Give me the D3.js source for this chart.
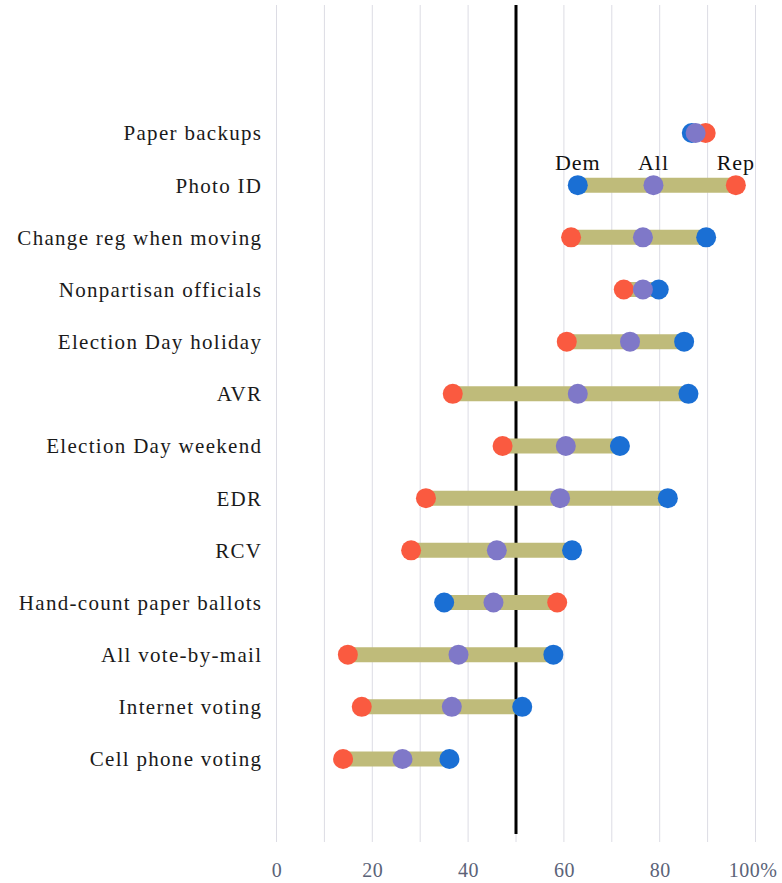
<!DOCTYPE html>
<html>
<head>
<meta charset="utf-8">
<script src="https://cdn.jsdelivr.net/npm/d3@7"></script>
<style>
  body { margin: 0; background: #fff; }
  svg { display: block; }
</style>
</head>
<body>
<script>
(function() {

  // data (percent support)
  let categories = ["Paper backups", "Photo ID", "Change reg when moving", "Nonpartisan officials",
    "Election Day holiday", "AVR", "Election Day weekend", "EDR", "RCV",
    "Hand-count paper ballots", "All vote-by-mail", "Internet voting", "Cell phone voting"];
  let demValues = [86.7, 62.9, 89.7, 79.8, 85.1, 86.0, 71.7, 81.7, 61.7, 35.0, 57.8, 51.3, 36.1];
  let allValues = [87.5, 78.7, 76.5, 76.5, 73.8, 62.9, 60.4, 59.2, 46.0, 45.3, 38.0, 36.6, 26.3];
  let repValues = [89.6, 95.9, 61.5, 72.5, 60.6, 36.8, 47.2, 31.2, 28.1, 58.6, 14.9, 17.8, 13.9];
  let xTicks = [0, 20, 40, 60, 80, 100];
  let gridTicks = [0, 10, 20, 30, 40, 50, 60, 70, 80, 90, 100];
  let refValue = 50;

  const width = 782, height = 883;
  const serif = "'Liberation Serif', 'DejaVu Serif', serif";

  let svg = d3.select("body").append("svg")
    .attr("width", width)
    .attr("height", height);

  let x = d3.scaleLinear().domain([0, 100]).range([276.5, 755.5]);
  let y = d3.scalePoint().domain(categories).range([133, 759]);

  // vertical grid
  svg.append("g")
    .selectAll("line")
    .data(gridTicks)
    .enter()
    .append("line")
      .attr("x1", (d) => x(d))
      .attr("x2", (d) => x(d))
      .attr("y1", 5)
      .attr("y2", 842)
      .attr("stroke", "#dcdce4")
      .attr("stroke-width", 1);

  // reference line at 50%
  svg.append("line")
    .attr("x1", x(refValue))
    .attr("x2", x(refValue))
    .attr("y1", 5)
    .attr("y2", 834)
    .attr("stroke", "#000")
    .attr("stroke-width", 3);

  // x axis labels
  let xAxis = d3.axisBottom(x)
    .tickValues(xTicks)
    .tickSize(0)
    .tickPadding(0)
    .tickFormat((d) => d == 100 ? d + "%" : d);
  let gx = svg.append("g")
    .attr("transform", "translate(0, 863)")
    .call(xAxis);
  gx.select(".domain").remove();
  gx.selectAll("text")
    .attr("fill", "#5b6378")
    .style("font-family", serif)
    .style("font-size", "20px")
    .style("letter-spacing", "0.5px");
  gx.selectAll(".tick").filter((d) => d == 100).select("text")
    .attr("dx", "-0.15em");

  // category labels
  svg.append("g")
    .selectAll("text")
    .data(categories)
    .enter()
    .append("text")
      .attr("x", 262.3)
      .attr("y", (d) => y(d))
      .attr("dy", "0.35em")
      .attr("text-anchor", "end")
      .attr("fill", "#1a1a1a")
      .style("font-family", serif)
      .style("font-size", "21px")
      .style("letter-spacing", "1.3px")
      .text((d) => d);

  let rows = categories.map((c, i) => ({
    cat: c, dem: demValues[i], all: allValues[i], rep: repValues[i]
  }));

  // range bars between Dem and Rep
  svg.append("g")
    .selectAll("line")
    .data(rows)
    .enter()
    .append("line")
      .attr("x1", (d) => x(Math.min(d.dem, d.rep)))
      .attr("x2", (d) => x(Math.max(d.dem, d.rep)))
      .attr("y1", (d) => y(d.cat))
      .attr("y2", (d) => y(d.cat))
      .attr("stroke", "#bfbb7a")
      .attr("stroke-width", 15);

  let series = [
    { key: "rep", color: "#fa5a40" },
    { key: "dem", color: "#1a6fd4" },
    { key: "all", color: "#7f78c8" }
  ];

  series.forEach((s) => {
    svg.append("g")
      .selectAll("circle")
      .data(rows)
      .enter()
      .append("circle")
        .attr("cx", (d) => x(d[s.key]))
        .attr("cy", (d) => y(d.cat))
        .attr("r", 10)
        .attr("fill", s.color);
  });

  // labels over the Photo ID row
  let photo = rows[1];
  let seriesLabels = [["Dem", photo.dem], ["All", photo.all], ["Rep", photo.rep]];
  svg.append("g")
    .selectAll("text")
    .data(seriesLabels)
    .enter()
    .append("text")
      .attr("x", (d) => x(d[1]))
      .attr("y", y(photo.cat) - 15)
      .attr("text-anchor", "middle")
      .attr("fill", "#111")
      .style("font-family", serif)
      .style("font-size", "22px")
      .style("letter-spacing", "1px")
      .text((d) => d[0]);
})();
</script>
</body>
</html>
